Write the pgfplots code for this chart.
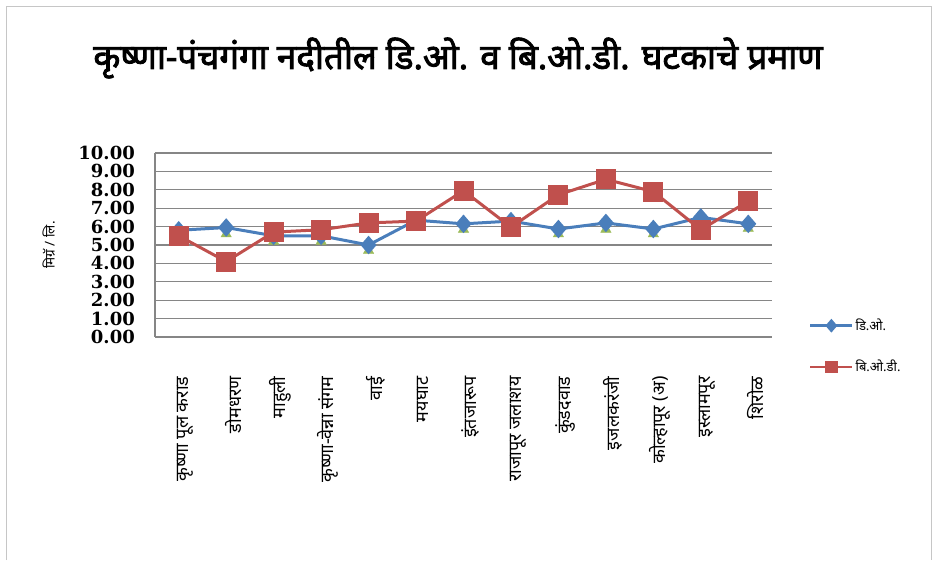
\documentclass[border=0pt]{standalone}
\usepackage{fontspec}
\setmainfont{Noto Sans}[Script=Devanagari]
\newfontfamily\titlefont[Script=Devanagari, FakeBold=2.5]{Noto Sans}
\newfontfamily\numfont{DejaVu Serif}
\usepackage{pgfplots}
\pgfplotsset{compat=1.18}
\definecolor{doblue}{RGB}{74,126,187}
\definecolor{bodred}{RGB}{192,80,77}
\definecolor{grn}{RGB}{155,187,89}
\definecolor{gridc}{RGB}{134,134,134}
\begin{document}
\begin{tikzpicture}
\useasboundingbox (0,0) rectangle (935pt,560pt);
\draw[gray!45, line width=1pt] (6pt,0pt) -- (6pt,553pt) -- (931pt,553pt) -- (931pt,0pt);
\node[font=\titlefont\fontsize{35}{39}\selectfont] at (458pt,502pt) {कृष्णा-पंचगंगा नदीतील डि.ओ. व बि.ओ.डी. घटकाचे प्रमाण};
\begin{axis}[
  at={(155pt,223pt)}, anchor=south west,
  scale only axis, width=617pt, height=184pt,
  xmin=-0.5, xmax=12.5, ymin=0, ymax=10,
  xtick={0,...,12},
  xticklabels={कृष्णा पूल कराड, डोमधरण, माहुली, कृष्णा-वेन्ना संगम, वाई, मयघाट, इंतजारूप, राजापूर जलाशय, कुंडदवाड, इजलकरंजी, कोल्हापूर (अ), इस्लामपूर, शिरोळ},
  xticklabel style={rotate=90, anchor=east, font=\fontsize{18}{20}\selectfont, yshift=-7pt},
  xticklabel shift=36pt,
  ytick={0,...,10},
  yticklabel style={font=\numfont\bfseries\fontsize{18}{18}\selectfont, inner sep=0pt, xshift=-20pt},
  /pgf/number format/.cd, fixed, fixed zerofill, precision=2, assume math mode=true, /pgfplots/.cd,
  major tick length=0pt,
  axis lines*=left,
  axis line style={gridc, line width=1.1pt, -},
  ymajorgrids,
  grid style={gridc, line width=1.1pt},
  ylabel={मिग्रॅ / लि.},
  ylabel style={font=\fontsize{13.5}{15}\selectfont},
  ylabel shift=20pt,
  legend style={draw=none, at={(1.055,0.12)}, anchor=north west, font=\fontsize{13}{15}\selectfont, row sep=24pt, fill=none},
  legend cell align=left,
  legend image code/.code={\draw[#1, line width=2.5pt, mark size=5pt, mark repeat=2, mark phase=2] plot coordinates {(0pt,0pt) (21pt,0pt) (42pt,0pt)};},
  clip=false,
]
\addplot[grn, draw=none, mark=triangle*, mark size=6pt, forget plot] coordinates {
(0,5.5) (1,5.6) (2,5.2) (3,5.2) (4,4.7) (5,6.2) (6,5.85) (7,6.1) (8,5.6) (9,5.85) (10,5.6) (11,6.3) (12,5.9)};
\addplot[doblue, line width=3pt, mark=diamond*, mark size=7pt, mark options={solid, xscale=1.15}] coordinates {
(0,5.8) (1,5.95) (2,5.5) (3,5.5) (4,5.0) (5,6.35) (6,6.15) (7,6.3) (8,5.87) (9,6.2) (10,5.87) (11,6.5) (12,6.15)};
\addlegendentry{डि.ओ.}
\addplot[bodred, line width=3pt, mark=square*, mark size=8.5pt, mark options={solid}] coordinates {
(0,5.5) (1,4.1) (2,5.7) (3,5.83) (4,6.2) (5,6.3) (6,7.95) (7,5.97) (8,7.73) (9,8.57) (10,7.9) (11,5.83) (12,7.38)};
\addlegendentry{बि.ओ.डी.}
\end{axis}
\end{tikzpicture}
\end{document}
